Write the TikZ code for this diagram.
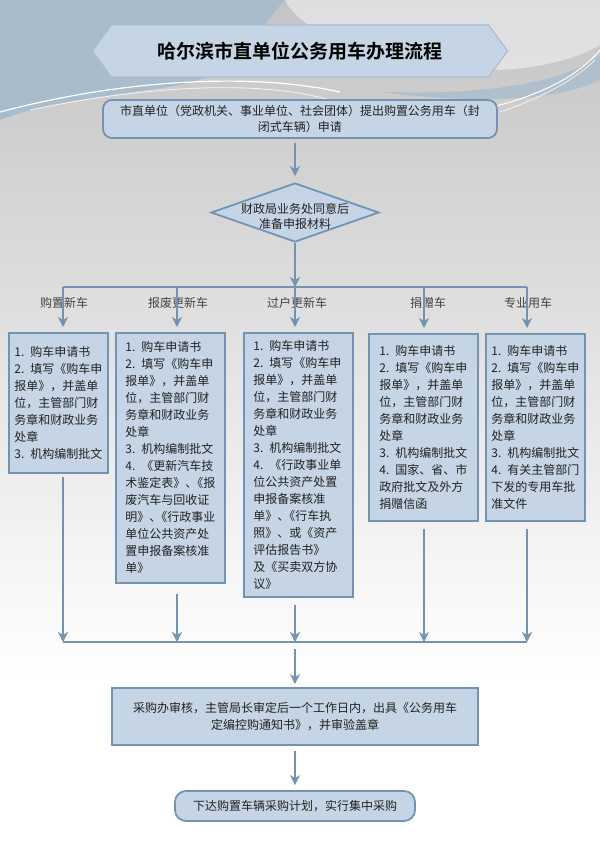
\documentclass[tikz,border=0pt]{standalone}
\usepackage{fontspec}
\setmainfont{Noto Sans CJK SC}[BoldFont={Noto Sans CJK SC Bold}]
\usetikzlibrary{arrows.meta,shapes.geometric,shapes.symbols}

\definecolor{boxfill}{HTML}{C5D5E5}
\definecolor{boxline}{HTML}{7393B3}
\definecolor{bggray}{HTML}{C4C4C4}
\definecolor{bgblue}{HTML}{A8BCCC}
\definecolor{txt}{HTML}{222222}
\newcommand\punc{\kern-6pt}

\begin{document}
\begin{tikzpicture}[x=1pt,y=-1pt,>={Stealth[length=10pt,width=10pt,inset=3pt]},
    box/.style={draw=boxline,fill=boxfill,line width=1.8pt,text=txt,font=\fontsize{12}{17}\selectfont},
    docbox/.style={box,anchor=north west,align=left,text width=90pt,inner xsep=9.5pt,inner ysep=0pt},
    titlebox/.style={signal,signal to=west and east,signal pointer angle=108,draw=boxline!60,fill=boxfill,
        line width=1.2pt,minimum width=415pt,minimum height=52pt,font=\bfseries\fontsize{19}{19}\selectfont},
    decision/.style={diamond,draw=boxline,fill=boxfill,line width=1.8pt,minimum width=168pt,
        minimum height=59pt,inner sep=0pt,aspect=2.85},
    kind/.style={text=txt!85,font=\fontsize{12}{14}\selectfont},
    arr/.style={->,draw=boxline,line width=2.2pt},
    link/.style={draw=boxline,line width=2.2pt}]
    \useasboundingbox (0,0) rectangle (600,847);

    % background
    \fill[top color=bggray,bottom color=white] (0,0) rectangle (600,680);
    \fill[white] (0,680) rectangle (600,847);
    \fill[bgblue] (0,0) -- (285,0) .. controls (255,30) and (250,70) .. (180,85)
        .. controls (120,95) and (50,100) .. (0,120) -- cycle;
    \fill[white,opacity=.45] (285,0) .. controls (300,30) and (360,60) .. (470,70)
        .. controls (530,72) and (575,60) .. (600,45) -- (600,0) -- cycle;
    \fill[bgblue,opacity=.8] (600,55) .. controls (560,85) and (480,95) .. (380,92)
        .. controls (480,105) and (560,100) .. (600,80) -- cycle;
    \draw[white,line width=1.2pt] (0,112) .. controls (120,80) and (250,72) .. (340,92);
    \draw[white,line width=.8pt,opacity=.8] (30,110) .. controls (150,85) and (260,80) .. (330,100);
    \draw[white,line width=1pt] (470,112) .. controls (530,100) and (575,80) .. (600,50);
    \draw[white,line width=.8pt,opacity=.8] (500,112) .. controls (550,95) and (580,75) .. (595,60);

    % title and application
    \node[titlebox] (title) at (300,51) {哈尔滨市直单位公务用车办理流程};
    \node[box,rounded corners=9pt,minimum width=394pt,minimum height=38pt,align=center,
        font=\fontsize{12}{16}\selectfont] (apply) at (300,119)
        {市直单位（党政机关、事业单位、社会团体）提出购置公务用车（封\\闭式车辆）申请};
    \node[decision] (check) at (295,212.5) {};
    \node[text=txt,align=center,font=\fontsize{12}{15}\selectfont] (checktext) at (295,216)
        {财政局业务处同意后\\准备申报材料};

    % branches
    \coordinate (split) at (295,287);
    \foreach \x [count=\i] in {63,177,295,424,527} {
        \coordinate (b\i) at (\x,287);
        \coordinate (m\i) at (\x,642);
    }
    \node[kind] (k1) at (64,303) {购置新车};
    \node[kind] (k2) at (178,303) {报废更新车};
    \node[kind] (k3) at (297,303) {过户更新车};
    \node[kind] (k4) at (428,303) {捐赠车};
    \node[kind] (k5) at (528,303) {专业用车};

    % required documents
    \node[docbox,text width=88pt,inner xsep=5.5pt,minimum height=140pt] (buy) at (8,332)
        {1. 购车申请书\\2. 填写《购车申\\报单》，并盖单\\位，主管部门财\\务章和财政业务\\处章\\3. 机构编制批文};
    \node[docbox,minimum height=250pt] (scrap) at (115,332)
        {1. 购车申请书\\2. 填写《购车申\\报单》，并盖单\\位，主管部门财\\务章和财政业务\\处章\\3. 机构编制批文\\4. 《更新汽车技\\术鉴定表》、\punc《报\\废汽车与回收证\\明》、\punc《行政事业\\单位公共资产处\\置申报备案核准\\单》};
    \node[docbox,minimum height=264pt] (transfer) at (243,332)
        {1. 购车申请书\\2. 填写《购车申\\报单》，并盖单\\位，主管部门财\\务章和财政业务\\处章\\3. 机构编制批文\\4. 《行政事业单\\位公共资产处置\\申报备案核准\\单》、\punc《行车执\\照》、或《资产\\评估报告书》\\及《买卖双方协\\议》};
    \node[docbox,text width=88pt,inner xsep=10.5pt,minimum height=187pt] (donate) at (368,333)
        {1. 购车申请书\\2. 填写《购车申\\报单》，并盖单\\位，主管部门财\\务章和财政业务\\处章\\3. 机构编制批文\\4. 国家、省、市\\政府批文及外方\\捐赠信函};
    \node[docbox,text width=88pt,inner xsep=5.5pt,minimum height=187pt] (special) at (485,333)
        {1. 购车申请书\\2. 填写《购车申\\报单》，并盖单\\位，主管部门财\\务章和财政业务\\处章\\3. 机构编制批文\\4. 有关主管部门\\下发的专用车批\\准文件};

    % audit and plan
    \node[box,minimum width=366pt,minimum height=57pt,align=center] (audit) at (295,716.5)
        {采购办审核，主管局长审定后一个工作日内，出具《公务用车\\定编控购通知书》，并审验盖章};
    \node[box,rounded corners=11pt,minimum width=240pt,minimum height=30pt] (plan) at (295,806)
        {下达购置车辆采购计划，实行集中采购};

    % connectors
    \draw[arr,shorten <=4pt,shorten >=6pt] (apply.south -| check.north) -- (check.north);
    \draw[arr] (check.south) -- (split);
    \draw[link] (b1) -- (b5);
    \foreach \n [count=\i] in {buy,scrap,transfer,donate,special}
        \draw[arr,shorten >=5pt] (b\i) -- (b\i |- \n.north);
    \foreach \n/\s [count=\i] in {buy/3pt,scrap/10pt,transfer/7pt,donate/7pt,special/7pt}
        \draw[arr,shorten <=\s] (m\i |- \n.south) -- (m\i);
    \draw[link] (m1) -- (m5);
    \draw[arr,shorten <=7pt,shorten >=3pt] (m3) -- (audit.north);
    \draw[arr,shorten <=5pt,shorten >=5pt] (audit) -- (plan);
\end{tikzpicture}
\end{document}
